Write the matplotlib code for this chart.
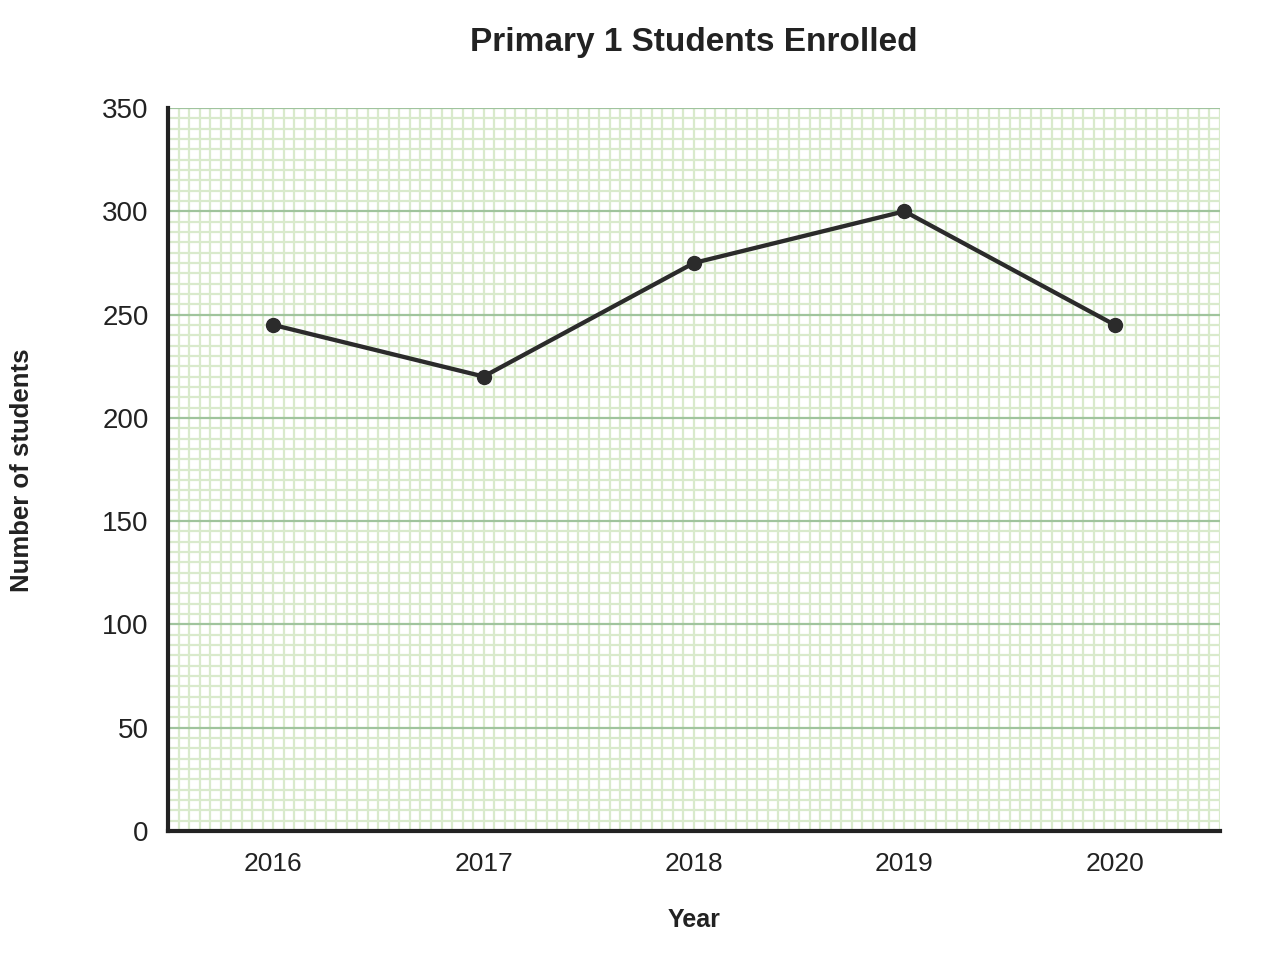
import matplotlib.pyplot as plt
import numpy as np

years = ['2016', '2017', '2018', '2019', '2020']
students = [245, 220, 275, 300, 245]
y_ticks = [0, 50, 100, 150, 200, 250, 300, 350]

plt.rcParams['font.family'] = ['Liberation Sans', 'DejaVu Sans']

fig = plt.figure(figsize=(12.8, 9.8), dpi=100)
ax = fig.add_axes([168 / 1280, 1 - 831 / 980, 1052 / 1280, 723 / 980])

x = np.arange(len(years))

# graph-paper style grid
ax.set_xlim(-0.5, len(years) - 0.5)
ax.set_ylim(0, 350)
ax.set_yticks(y_ticks)
ax.set_yticks(np.arange(0, 351, 5), minor=True)
ax.set_xticks(x)
ax.set_xticks(np.arange(-0.5, len(years) - 0.5 + 0.001, 0.05), minor=True)
ax.grid(which='minor', color='#d9eacc', linewidth=1.6, zorder=0)
ax.grid(which='major', axis='y', color='#a0c49d', linewidth=1.6, zorder=1)
ax.grid(which='major', axis='x', color='#d9eacc', linewidth=1.6, zorder=0)
ax.set_axisbelow(True)

ax.plot(x, students, color='#2b2b2b', linewidth=3.1, marker='o',
        markersize=10, zorder=3)

ax.set_xticklabels(years)
ax.tick_params(which='both', length=0)
ax.tick_params(axis='x', pad=15, labelsize=19, colors='#222222')
ax.tick_params(axis='y', pad=14, labelsize=20, colors='#222222')

for side in ['top', 'right']:
    ax.spines[side].set_visible(False)
for side in ['left', 'bottom']:
    ax.spines[side].set_color('#222222')
    ax.spines[side].set_linewidth(3)

# titles placed in figure pixels
fig.text(694 / 1280, 1 - 42 / 980, 'Primary 1 Students Enrolled', fontsize=24,
         fontweight='bold', color='#222222', ha='center', va='center')
fig.text(694 / 1280, 1 - 920 / 980, 'Year', fontsize=18, fontweight='bold',
         color='#222222', ha='center', va='center')
fig.text(22 / 1280, 1 - 470 / 980, 'Number of students', fontsize=18.5,
         fontweight='bold', color='#222222', ha='center', va='center',
         rotation=90)

plt.savefig('out.png', dpi=100)
